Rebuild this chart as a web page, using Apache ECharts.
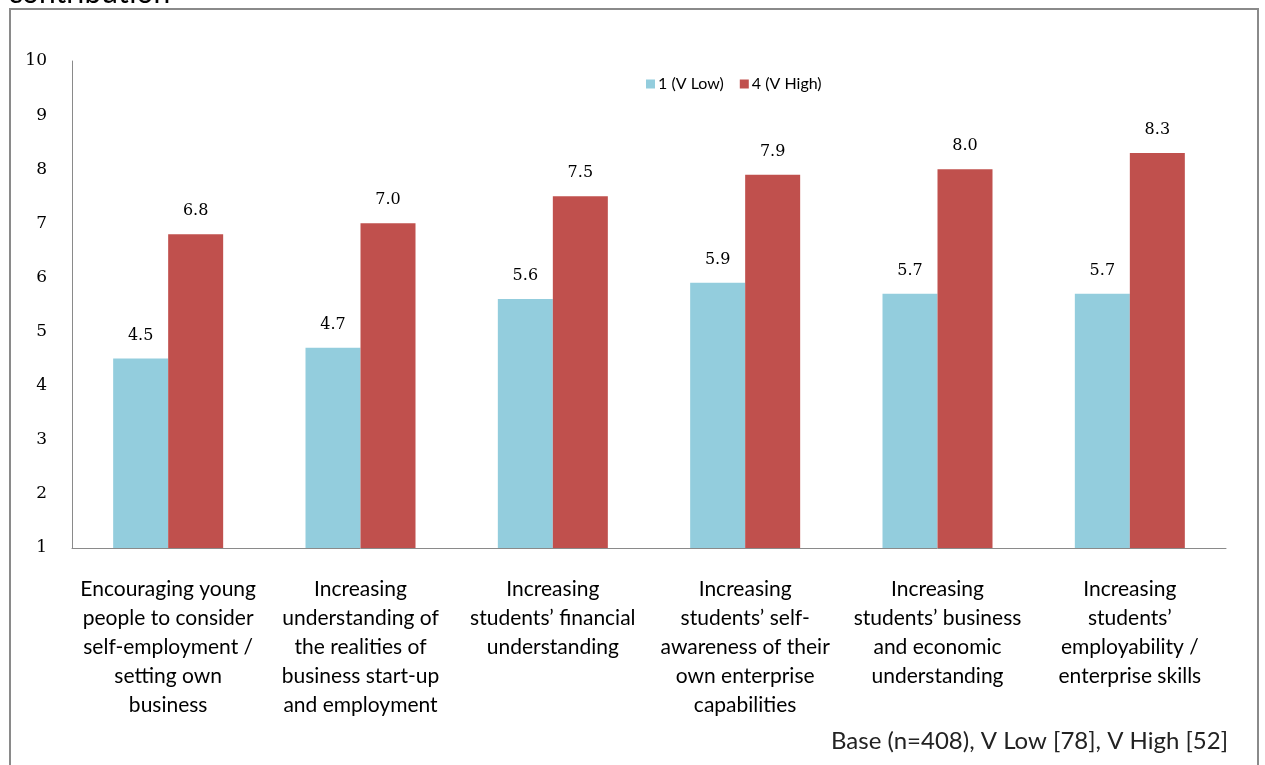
<!DOCTYPE html>
<html>
<head>
<meta charset="utf-8">
<script src="https://cdn.jsdelivr.net/npm/echarts@6/dist/echarts.min.js"></script>
<style>html,body{margin:0;padding:0;background:#fff;}#c{width:1265px;height:765px;}</style>
</head>
<body>
<div id="c"></div>
<script>
const categories = [
  "Encouraging young\npeople to consider\nself-employment /\nsetting own\nbusiness",
  "Increasing\nunderstanding of\nthe realities of\nbusiness start-up\nand employment",
  "Increasing\nstudents\u2019 financial\nunderstanding",
  "Increasing\nstudents\u2019 self-\nawareness of their\nown enterprise\ncapabilities",
  "Increasing\nstudents\u2019 business\nand economic\nunderstanding",
  "Increasing\nstudents\u2019\nemployability /\nenterprise skills"
];
const seriesNames = ["1 (V Low)", "4 (V High)"];
const vLow = [4.5, 4.7, 5.6, 5.9, 5.7, 5.7];
const vHigh = [6.8, 7.0, 7.5, 7.9, 8.0, 8.3];
const yTicks = [1, 10, 1]; // min, max, interval
const footnote = "Base (n=408), V Low [78], V High [52]";
const topText = "contribution";

const chart = echarts.init(document.getElementById('c'), null, {renderer: 'canvas'});
const numFont = '"DejaVu Serif", serif';
const txtFont = 'Lato, "Open Sans", sans-serif';
const labelCfg = {
  show: true, position: 'top', distance: 15,
  fontFamily: numFont, fontSize: 16, color: '#000',
  formatter: p => p.value.toFixed(1)
};
chart.setOption({
  animation: false,
  backgroundColor: '#fff',
  graphic: [
    {type: 'rect', shape: {x: 10, y: 9, width: 1248, height: 800},
     style: {fill: 'none', stroke: '#8a8a8a', lineWidth: 2}, z: 0},
    {type: 'text', x: 8, y: 8, style: {text: topText, font: '30px ' + txtFont, fill: '#000', verticalAlign: 'bottom'}},
    {type: 'text', right: 37, top: 729, style: {text: footnote, font: '24px ' + txtFont, fill: '#222'}}
  ],
  legend: {
    left: 641, top: 71, itemWidth: 9, itemHeight: 9, itemGap: 16,
    icon: 'rect',
    textStyle: {fontFamily: txtFont, fontSize: 16, color: '#000', padding: [0, 0, 0, -2]},
    data: seriesNames
  },
  grid: {left: 72, right: 39, top: 61, bottom: 217, containLabel: false},
  xAxis: {
    type: 'category', data: categories,
    axisLine: {show: true, lineStyle: {color: '#8a8a8a', width: 1}},
    axisTick: {show: false},
    axisLabel: {interval: 0, margin: 27, fontFamily: txtFont, fontSize: 21, lineHeight: 29, color: '#000', align: 'center'}
  },
  yAxis: {
    type: 'value', min: yTicks[0], max: yTicks[1], interval: yTicks[2],
    axisLine: {show: true, lineStyle: {color: '#8a8a8a', width: 1}},
    axisTick: {show: false},
    splitLine: {show: false},
    axisLabel: {margin: 25, fontFamily: numFont, fontSize: 17, color: '#000'}
  },
  series: [
    {name: seriesNames[0], type: 'bar', data: vLow, barWidth: 55, barGap: '0%',
     itemStyle: {color: '#93CDDD'}, label: labelCfg},
    {name: seriesNames[1], type: 'bar', data: vHigh, barWidth: 55,
     itemStyle: {color: '#C0504D'}, label: labelCfg}
  ]
});
</script>
</body>
</html>
